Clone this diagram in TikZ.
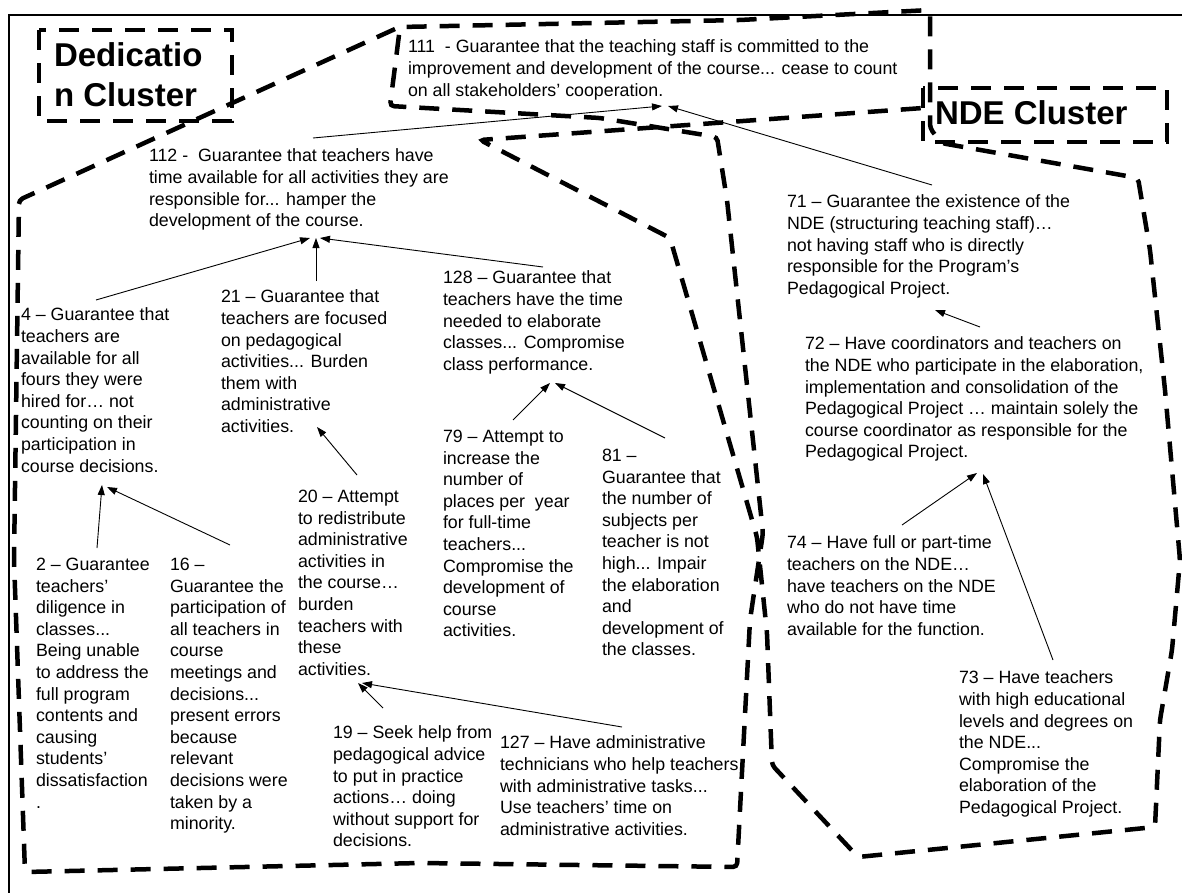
\documentclass[tikz,border=0pt]{standalone}
\usepackage{fontspec}
\setmainfont{Liberation Sans}
\usetikzlibrary{arrows.meta,calc}
\begin{document}
\begin{tikzpicture}[x=1bp,y=-1bp,
  txt/.style={anchor=north west,inner sep=0pt,outer sep=0pt,align=left,font=\fontsize{17.8bp}{21.6bp}\selectfont},
  lbl/.style={anchor=north west,inner sep=0pt,outer sep=0pt,align=left,font=\bfseries\fontsize{33bp}{40bp}\selectfont},
  arr/.style={-{Triangle[length=10bp,width=7bp]},line width=0.9bp},
  clus/.style={line width=4.5bp,dash pattern=on 20bp off 13bp,rounded corners=4bp},
  lblbox/.style={line width=4.5bp,dash pattern=on 20bp off 13bp},
  frame/.style={line width=2.5bp}]
\useasboundingbox (0,0) rectangle (1182,893);
\fill[white] (0,0) rectangle (1182,893);
\draw[frame] (9,893) -- (9,15) -- (1182,15);

% cluster outlines
\draw[clus] (395,29) -- (19,200) -- (14,560) -- (25,872) -- (420,863) -- (737,867)
  -- (750,620) -- (763,533) -- (727,200) -- (717,137) -- (600,118) -- (390,106)
  -- (400,27) -- (740,20) -- (930,10) -- (930,128) -- (941,143) -- (1138,178)
  -- (1150,250) -- (1165,390) -- (1180,560) -- (1172,650) -- (1160,720) -- (1155,827)
  -- (858,857) -- (772,765) -- (767,633) -- (757,537) -- (670,238) -- (480,140) -- (923,108);

% cluster labels
\draw[lblbox] (39,30) rectangle (232,121);
\node[lbl] (dedlbl) at (54,43) {Dedicatio\\n Cluster};
\draw[lblbox] (923,88) rectangle (1167,142);
\node[lbl] (ndelbl) at (935,101) {NDE Cluster};

% statements
\node[txt] (n111) at (408,40) {111~ - Guarantee that the teaching staff is committed to the\\improvement and development of the course... cease to count\\on all stakeholders’ cooperation.};
\node[txt] (n112) at (149,149) {112 -~ Guarantee that teachers have\\time available for all activities they are\\responsible for... hamper the\\development of the course.};
\node[txt] (n4) at (21,308) {4 – Guarantee that\\teachers are\\available for all\\fours they were\\hired for… not\\counting on their\\participation in\\course decisions.};
\node[txt] (n21) at (221,290) {21 – Guarantee that\\teachers are focused\\on pedagogical\\activities... Burden\\them with\\administrative\\activities.};
\node[txt] (n128) at (443,271) {128 – Guarantee that\\teachers have the time\\needed to elaborate\\classes... Compromise\\class performance.};
\node[txt] (n79) at (443,430) {79 – Attempt to\\increase the\\number of\\places per~ year\\for full-time\\teachers...\\Compromise the\\development of\\course\\activities.};
\node[txt] (n81) at (602,449) {81 –\\Guarantee that\\the number of\\subjects per\\teacher is not\\high... Impair\\the elaboration\\and\\development of\\the classes.};
\node[txt] (n20) at (298,490) {20 – Attempt\\to redistribute\\administrative\\activities in\\the course…\\burden\\teachers with\\these\\activities.};
\node[txt] (n2) at (36,558) {2 – Guarantee\\teachers’\\diligence in\\classes...\\Being unable\\to address the\\full program\\contents and\\causing\\students’\\dissatisfaction\\.};
\node[txt] (n16) at (170,558) {16 –\\Guarantee the\\participation of\\all teachers in\\course\\meetings and\\decisions...\\present errors\\because\\relevant\\decisions were\\taken by a\\minority.};
\node[txt] (n19) at (333,726) {19 – Seek help from\\pedagogical advice\\to put in practice\\actions… doing\\without support for\\decisions.};
\node[txt] (n127) at (500,736) {127 – Have administrative\\technicians who help teachers\\with administrative tasks...\\Use teachers’ time on\\administrative activities.};
\node[txt] (n71) at (787,195) {71 – Guarantee the existence of the\\NDE (structuring teaching staff)…\\not having staff who is directly\\responsible for the Program’s\\Pedagogical Project.};
\node[txt] (n72) at (805,337) {72 – Have coordinators and teachers on\\the NDE who participate in the elaboration,\\implementation and consolidation of the\\Pedagogical Project … maintain solely the\\course coordinator as responsible for the\\Pedagogical Project.};
\node[txt] (n74) at (787,536) {74 – Have full or part-time\\teachers on the NDE…\\have teachers on the NDE\\who do not have time\\available for the function.};
\node[txt] (n73) at (959,671) {73 – Have teachers\\with high educational\\levels and degrees on\\the NDE...\\Compromise the\\elaboration of the\\Pedagogical Project.};

% connectors
\draw[arr] ($(n112.north west)+(164,-11)$) -- ($(n111.north west)+(254,66)$);
\draw[arr] ($(n71.north west)+(145,-10)$) -- ($(n111.north west)+(260,66)$);
\draw[arr] ($(n4.north west)+(75,-8)$) -- ($(n112.north west)+(161,89)$);
\draw[arr] ($(n21.north west)+(95,-9)$) -- ($(n112.north west)+(167,89)$);
\draw[arr] ($(n128.north west)+(100,-4)$) -- ($(n112.north west)+(171,89)$);
\draw[arr] ($(n2.north west)+(61,-10)$) -- ($(n4.north west)+(81,177)$);
\draw[arr] ($(n16.north west)+(60,-13)$) -- ($(n4.north west)+(86,179)$);
\draw[arr] ($(n20.north west)+(59,-15)$) -- ($(n21.north west)+(96,137)$);
\draw[arr] ($(n79.north west)+(70,-10)$) -- ($(n128.north west)+(107,112)$);
\draw[arr] ($(n81.north west)+(63,-11)$) -- ($(n128.north west)+(112,112)$);
\draw[arr] ($(n19.north west)+(50,-18)$) -- ($(n20.north west)+(60,193)$);
\draw[arr] ($(n127.north west)+(122,-9)$) -- ($(n20.north west)+(64,193)$);
\draw[arr] ($(n72.north west)+(175,-10)$) -- ($(n71.north west)+(148,115)$);
\draw[arr] ($(n74.north west)+(115,-11)$) -- ($(n72.north west)+(172,136)$);
\draw[arr] ($(n73.north west)+(94,-11)$) -- ($(n72.north west)+(178,137)$);
\end{tikzpicture}
\end{document}
